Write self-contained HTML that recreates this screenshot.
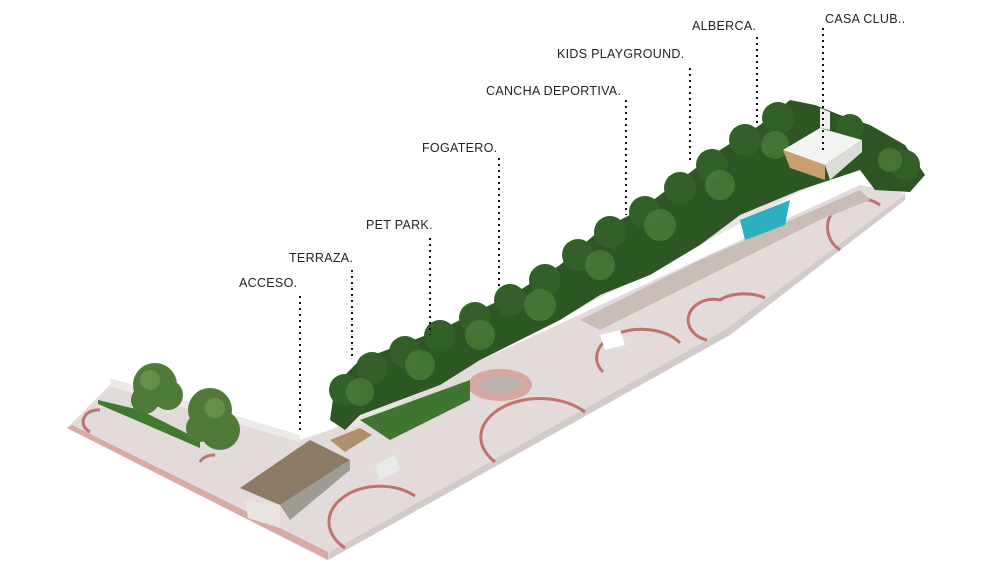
<!DOCTYPE html>
<html><head><meta charset="utf-8"><style>
html,body{margin:0;padding:0;background:#fff;width:999px;height:562px;overflow:hidden}
svg{display:block}
text{font-family:"Liberation Sans",sans-serif;font-size:12.5px;fill:#222;letter-spacing:0.3px}
</style></head><body>
<svg width="999" height="562" viewBox="0 0 999 562">
<!-- ground -->
<polygon points="67,428 110,385 300,440 330,430 860,185 905,193 905,200 730,335 328,560" fill="#e3dbd9"/>
<polygon points="67,428 328,560 328,552 72,425" fill="#d9a9a4"/>
<polygon points="328,560 730,335 905,200 905,195 725,330 330,552" fill="#d2cbc9"/>
<polygon points="98,400 140,410 200,440 200,448 140,422 98,404" fill="#3f7a2e"/>
<!-- red arcs -->
<g fill="none" stroke="#b9625a" stroke-width="3" opacity="0.85">
<path d="M345,548 A40,28 0 0 1 415,496"/>
<path d="M495,462 A40,26 0 0 1 585,412"/>
<path d="M603,372 A35,22 0 0 1 680,343"/>
<path d="M707,340 A22,18 0 0 1 720,300 A30,15 0 0 1 765,298"/>
<path d="M840,250 A25,22 0 0 1 880,205"/>
<path d="M90,432 A15,12 0 0 1 100,410"/>
<path d="M200,462 A15,10 0 0 1 215,455"/>
</g>
<!-- back wall -->
<polygon points="340,410 860,140 860,160 350,430" fill="#e7e5e2"/>
<polygon points="110,378 300,435 300,442 110,386" fill="#eceae8"/>
<!-- tree band -->
<polygon points="330,420 335,385 360,360 400,345 440,330 480,310 520,290 560,265 600,230 640,210 680,180 720,150 760,125 790,100 815,105 840,115 870,125 905,145 925,175 910,192 875,190 860,170 800,190 740,215 700,245 650,275 600,295 560,320 520,340 480,360 440,385 400,400 360,415 345,430" fill="#2d5624"/>
<g fill="#335f28">
<circle cx="345" cy="390" r="16"/><circle cx="372" cy="368" r="16"/><circle cx="405" cy="352" r="16"/><circle cx="440" cy="336" r="16"/><circle cx="475" cy="318" r="16"/><circle cx="510" cy="300" r="16"/><circle cx="545" cy="280" r="16"/><circle cx="578" cy="255" r="16"/><circle cx="610" cy="232" r="16"/><circle cx="645" cy="212" r="16"/><circle cx="680" cy="188" r="16"/><circle cx="712" cy="165" r="16"/><circle cx="745" cy="140" r="16"/><circle cx="778" cy="118" r="16"/><circle cx="850" cy="128" r="14"/><circle cx="905" cy="165" r="15"/>
</g>
<g fill="#4d7d3c" opacity="0.75">
<circle cx="360" cy="392" r="14"/><circle cx="420" cy="365" r="15"/><circle cx="480" cy="335" r="15"/><circle cx="540" cy="305" r="16"/><circle cx="600" cy="265" r="15"/><circle cx="660" cy="225" r="16"/><circle cx="720" cy="185" r="15"/><circle cx="775" cy="145" r="14"/><circle cx="890" cy="160" r="12"/>
</g>
<!-- plaza elements -->
<polygon points="580,320 700,260 860,190 870,200 820,220 700,280 600,330" fill="#c8bdb6"/>
<ellipse cx="500" cy="385" rx="32" ry="16" fill="#d6a8a0"/>
<ellipse cx="500" cy="385" rx="20" ry="9" fill="#b8b2ad"/>
<polygon points="360,420 470,380 470,400 390,440" fill="#3f7530"/>
<polygon points="740,220 790,200 785,225 745,240" fill="#2bb0c0"/>
<polygon points="600,335 620,330 625,345 605,350" fill="#fff"/>
<!-- casa club -->
<polygon points="783,150 820,128 862,140 825,165" fill="#f4f4f2"/>
<polygon points="783,150 825,165 825,180 790,168" fill="#c89f6e"/>
<polygon points="825,165 862,140 862,152 830,180" fill="#dcdcd8"/>
<polygon points="820,108 830,112 830,130 820,128" fill="#f0f0ee"/>
<!-- access gate -->
<polygon points="240,488 310,440 350,460 280,505" fill="#8d7b66"/>
<polygon points="245,500 280,505 280,528 248,518" fill="#e8e4dd"/>
<polygon points="280,505 350,460 350,470 290,520" fill="#9e9a94"/>
<polygon points="330,440 360,428 372,435 345,452" fill="#b08e6e"/>
<polygon points="375,465 395,455 400,470 380,480" fill="#e9e9e9"/>
<!-- left trees -->
<g fill="#4f7a3a">
<circle cx="155" cy="385" r="22"/><circle cx="145" cy="400" r="14"/><circle cx="168" cy="395" r="15"/>
<circle cx="210" cy="410" r="22"/><circle cx="220" cy="430" r="20"/><circle cx="200" cy="428" r="14"/>
</g>
<g fill="#6f9a50" opacity="0.7"><circle cx="150" cy="380" r="10"/><circle cx="215" cy="408" r="10"/></g>
<!-- dotted leaders -->
<g stroke="#111" stroke-width="2" stroke-dasharray="2,4" fill="none">
<line x1="300" y1="296" x2="300" y2="430"/>
<line x1="352" y1="270" x2="352" y2="357"/>
<line x1="430" y1="238" x2="430" y2="335"/>
<line x1="499" y1="158" x2="499" y2="290"/>
<line x1="626" y1="100" x2="626" y2="215"/>
<line x1="690" y1="68" x2="690" y2="160"/>
<line x1="757" y1="37" x2="757" y2="125"/>
<line x1="823" y1="28" x2="823" y2="150"/>
</g>
<text x="239" y="287">ACCESO.</text>
<text x="289" y="262">TERRAZA.</text>
<text x="366" y="229">PET PARK.</text>
<text x="422" y="152">FOGATERO.</text>
<text x="486" y="95">CANCHA DEPORTIVA.</text>
<text x="557" y="58">KIDS PLAYGROUND.</text>
<text x="692" y="30">ALBERCA.</text>
<text x="825" y="23">CASA CLUB..</text>
</svg>
</body></html>
